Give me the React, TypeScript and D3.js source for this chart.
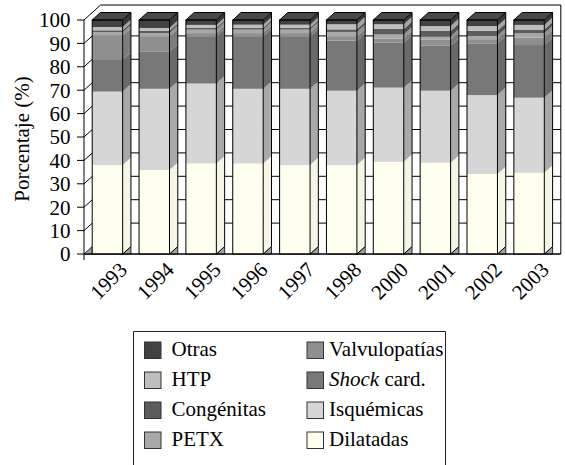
import React from "react";
import * as d3 from "d3";

const years = ["1993", "1994", "1995", "1996", "1997", "1998", "2000", "2001", "2002", "2003"];
const dilatadas = [38.0, 35.9, 38.7, 38.7, 38.0, 38.0, 39.4, 39.0, 34.2, 34.7];
const isquemicas = [31.4, 34.7, 34.2, 31.9, 32.6, 31.8, 31.7, 30.8, 33.7, 32.1];
const shock = [13.5, 15.8, 20.0, 22.3, 22.3, 21.4, 19.2, 19.2, 22.1, 22.5];
const valvulopatias = [10.4, 6.5, 1.5, 1.5, 1.5, 1.7, 1.7, 2.7, 1.8, 3.2];
const petx = [1.5, 1.5, 1.5, 1.5, 1.5, 2.0, 1.8, 1.2, 1.5, 1.8];
const congenitas = [0.8, 1.0, 0.8, 0.8, 0.8, 1.1, 2.4, 2.4, 2.1, 1.6];
const htp = [1.4, 1.2, 1.2, 1.3, 1.3, 2.2, 2.0, 2.1, 2.0, 2.0];
const otras = [3.0, 3.4, 2.1, 2.0, 2.0, 1.8, 1.8, 2.6, 2.6, 2.1];
const yTicks = [0, 10, 20, 30, 40, 50, 60, 70, 80, 90, 100];

const seriesKeys = ["Dilatadas", "Isquémicas", "Shock", "Valvulopatías", "PETX", "Congénitas", "HTP", "Otras"];
const seriesValues: Record<string, number[]> = {
  Dilatadas: dilatadas,
  "Isquémicas": isquemicas,
  Shock: shock,
  "Valvulopatías": valvulopatias,
  PETX: petx,
  "Congénitas": congenitas,
  HTP: htp,
  Otras: otras,
};

const front: Record<string, string> = {
  Dilatadas: "#fffff0",
  "Isquémicas": "#d6d6d6",
  Shock: "#787878",
  "Valvulopatías": "#8f8f8f",
  PETX: "#a8a8a8",
  "Congénitas": "#5c5c5c",
  HTP: "#bebebe",
  Otras: "#424242",
};
const side: Record<string, string> = {
  Dilatadas: "#f6f6e6",
  "Isquémicas": "#a9a9a9",
  Shock: "#6a6a6a",
  "Valvulopatías": "#7c7c7c",
  PETX: "#939393",
  "Congénitas": "#505050",
  HTP: "#a5a5a5",
  Otras: "#383838",
};

const legendRows = [
  ["Otras", "Valvulopatías"],
  ["HTP", "Shock"],
  ["Congénitas", "Isquémicas"],
  ["PETX", "Dilatadas"],
];

const W = 565;
const H = 465;
const DX = 8.3;
const DY = -7.5;
const FONT = "Liberation Serif, Tinos, Times New Roman, Times, serif";

export default function App() {
  const data = years.map((y, i) => {
    const o: any = { year: y };
    seriesKeys.forEach((k) => (o[k] = seriesValues[k][i]));
    return o;
  });
  const stacked = d3.stack<any>().keys(seriesKeys)(data);

  const x = d3.scaleBand<string>().domain(years).range([84, 552.5]).paddingInner(0.35).paddingOuter(0.175);
  const y = d3.scaleLinear().domain([0, 100]).range([254, 20]);
  const bw = x.bandwidth();
  const x0 = 84;
  const xr = 552.5;
  const y0 = y(0);

  const topY = y(100) + 2 * DY;

  return (
    <div style={{ position: "fixed", left: 0, top: 0 }}>
      <svg width={W} height={H} style={{ display: "block", background: "#fff", fontFamily: FONT }}>
        {yTicks.filter((t) => t > 0 && t < 100).map((t) => (
          <g key={t}>
            <line x1={x0} y1={y(t)} x2={x0 + DX} y2={y(t) + DY} stroke="#000" />
            <line x1={x0 + DX} y1={y(t) + DY} x2={xr + DX} y2={y(t) + DY} stroke="#000" />
          </g>
        ))}
        <path
          d={`M${x0},${y(100)} L${x0 + 2 * DX},${topY} L${xr + DX},${topY} L${xr + DX},${y0} L${x0},${y0}`}
          fill="none"
          stroke="#000"
        />
        <path d={`M${x0},${y0} L${x0 + DX},${y0 + DY} L${x0 + DX},${y0} Z`} fill="#a0a0a0" stroke="#000" strokeWidth={0.8} />
        <line x1={x0} y1={y(100)} x2={x0} y2={y0 + 6} stroke="#000" />
        {yTicks.map((t) => (
          <g key={t}>
            <line x1={x0 - 7} y1={y(t)} x2={x0} y2={y(t)} stroke="#000" />
            <text x={70.5} y={y(t)} dy="0.35em" textAnchor="end" fontSize={21}>
              {t}
            </text>
          </g>
        ))}
        {years.map((yr, i) => {
          const bx = x(yr)!;
          const segs = stacked.map((s) => ({ key: s.key, lo: s[i][0], hi: s[i][1] }));
          const top = segs[segs.length - 1];
          const yt = y(top.hi);
          return (
            <g key={yr}>
              <path d={`M${bx + bw},${y0} L${bx + bw + DX},${y0 + DY} L${bx + bw + DX},${y0} Z`} fill="#a0a0a0" stroke="#000" strokeWidth={0.8} />
              {segs.map((s) => (
                <g key={s.key}>
                  <rect x={bx} y={y(s.hi)} width={bw} height={y(s.lo) - y(s.hi)} fill={front[s.key]} />
                  <path
                    d={`M${bx + bw},${y(s.hi)} L${bx + bw + DX},${y(s.hi) + DY} L${bx + bw + DX},${y(s.lo) + DY} L${bx + bw},${y(s.lo)} Z`}
                    fill={side[s.key]}
                  />
                </g>
              ))}
              <path
                d={`M${bx},${yt} L${bx + DX},${yt + DY} L${bx + bw + DX},${yt + DY} L${bx + bw},${yt} Z`}
                fill="#484848"
                stroke="#000"
              />
              <rect x={bx} y={yt} width={bw} height={y0 - yt} fill="none" stroke="#000" />
              <path
                d={`M${bx + bw},${y0} L${bx + bw + DX},${y0 + DY} L${bx + bw + DX},${yt + DY}`}
                fill="none"
                stroke="#000"
              />
              <text
                transform={`translate(${bx + bw / 2 + 21},${271}) rotate(-45)`}
                textAnchor="end"
                fontSize={21}
              >
                {yr}
              </text>
            </g>
          );
        })}
        <line x1={x0} y1={y0} x2={xr + DX} y2={y0} stroke="#000" />
        <text transform={`translate(29,${139}) rotate(-90)`} textAnchor="middle" fontSize={21}>
          Porcentaje (%)
        </text>
        <path d={`M133.5,${H + 2} V331.5 H445.5 V${H + 2}`} fill="none" stroke="#222" />
        {legendRows.map((row, r) =>
          row.map((k, c) => {
            const sx = c === 0 ? 144.5 : 307;
            const tx = c === 0 ? 171.5 : 329;
            const sy = 342 + r * 30;
            return (
              <g key={k}>
                <rect x={sx} y={sy} width={16.5} height={16.5} fill={front[k]} stroke="#333" />
                <text x={tx} y={sy + 14} fontSize={21}>
                  {k === "Shock" ? (
                    <>
                      <tspan fontStyle="italic">Shock</tspan> card.
                    </>
                  ) : (
                    k
                  )}
                </text>
              </g>
            );
          })
        )}
      </svg>
    </div>
  );
}
